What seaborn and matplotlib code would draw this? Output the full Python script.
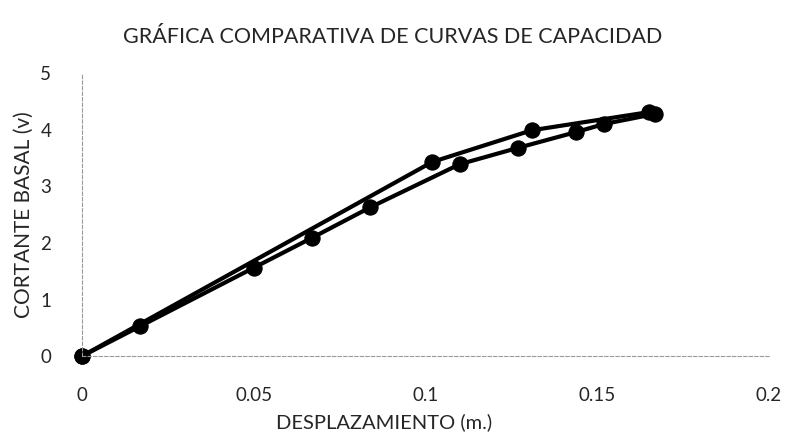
import matplotlib
matplotlib.use("Agg")
import matplotlib.pyplot as plt
import seaborn as sns
import pandas as pd

# Data
desp_1 = [0.0, 0.017, 0.050, 0.067, 0.084, 0.110, 0.127, 0.144, 0.152, 0.167]
cort_1 = [0.0, 0.53, 1.56, 2.09, 2.63, 3.39, 3.68, 3.96, 4.10, 4.28]

desp_2 = [0.0, 0.102, 0.131, 0.165]
cort_2 = [0.0, 3.43, 3.99, 4.31]

x_ticks = [0, 0.05, 0.1, 0.15, 0.2]
x_tick_labels = ["0", "0.05", "0.1", "0.15", "0.2"]
y_ticks = [0, 1, 2, 3, 4, 5]

df1 = pd.DataFrame({"x": desp_1, "y": cort_1})
df2 = pd.DataFrame({"x": desp_2, "y": cort_2})

sns.set_style("white")
plt.rcParams["font.family"] = ["Lato", "DejaVu Sans"]

fig = plt.figure(figsize=(7.95, 4.43), dpi=100)
ax = fig.add_axes([0.103, 0.196, 0.864, 0.639])

for d in (df1, df2):
    sns.lineplot(data=d, x="x", y="y", sort=False, ax=ax, color="black",
                 linewidth=3, marker="o", markersize=11,
                 markeredgecolor="black", markerfacecolor="black")

ax.set_xlim(0, 0.2)
ax.set_ylim(0, 5)
ax.set_xticks(x_ticks)
ax.set_xticklabels(x_tick_labels)
ax.set_yticks(y_ticks)
ax.tick_params(axis="x", length=0, pad=22, labelsize=13.5)
ax.tick_params(axis="y", length=0, pad=22, labelsize=13.5)

for side in ("top", "right"):
    ax.spines[side].set_visible(False)
for side in ("left", "bottom"):
    ax.spines[side].set_color("#9a9a9a")
    ax.spines[side].set_linewidth(0.8)
    ax.spines[side].set_linestyle((0, (3, 2)))

ax.set_xlabel("DESPLAZAMIENTO (m.)", fontsize=14.5)
ax.set_ylabel("CORTANTE BASAL (v)", fontsize=15)
ax.xaxis.set_label_coords(0.44, -0.2)
ax.yaxis.set_label_coords(-0.07, 0.5)

fig.text(0.494, 0.916, "GRÁFICA COMPARATIVA DE CURVAS DE CAPACIDAD",
         ha="center", va="center", fontsize=15.5)

for line in ax.lines:
    line.set_clip_on(False)

fig.savefig("out.png", dpi=100)
